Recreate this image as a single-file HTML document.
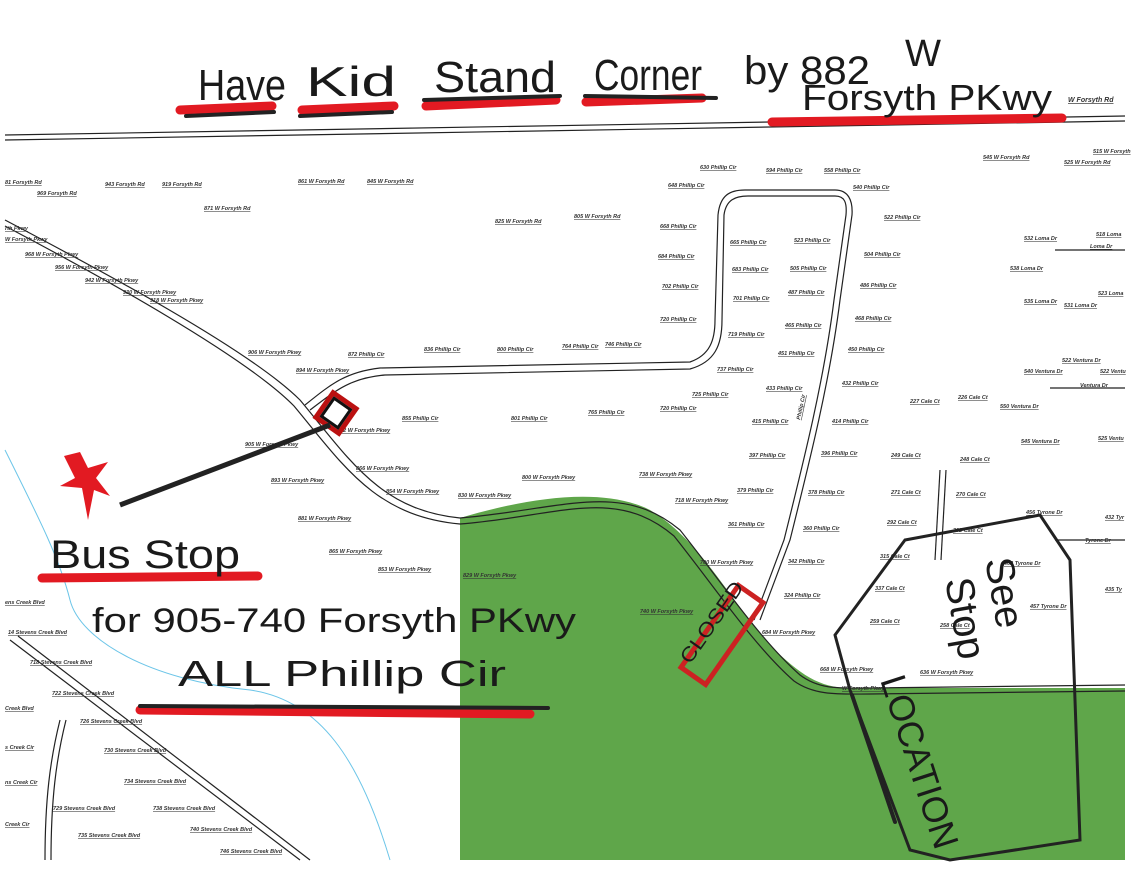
<!DOCTYPE html>
<html><head><meta charset="utf-8"><style>
html,body{margin:0;padding:0;background:#fff;}
svg{display:block}
.s{font-family:"Liberation Sans",sans-serif;font-size:5.5px;font-weight:bold;font-style:italic;fill:#333;text-decoration:underline}
.h{font-family:"Liberation Sans",sans-serif;fill:#1a1a1a;font-weight:normal}
</style></head><body>
<svg width="1136" height="875" viewBox="0 0 1136 875" xmlns="http://www.w3.org/2000/svg">
<rect width="1136" height="875" fill="#fff"/>
<path d="M460 518 C520 500 600 485 650 510 C700 540 730 600 770 645 C800 675 820 688 850 688 L1125 688 L1125 860 L460 860 Z" fill="#5fa64a"/>
<path d="M5 450 C40 520 60 560 70 600 C80 640 150 680 250 690 C320 700 360 760 390 860" fill="none" stroke="#6cc5e8" stroke-width="1"/>
<g fill="none" stroke="#222" stroke-width="1.2">
<path d="M5 135 L1125 116"/><path d="M5 140 L1125 121"/>
<path d="M5 220 C100 270 250 350 300 400 C350 460 380 510 460 518 C560 510 620 480 680 530 C720 580 760 640 800 675 C820 690 840 688 870 688 L1125 685"/>
<path d="M5 226 C100 276 245 356 294 406 C344 466 375 516 460 524 C560 516 615 486 674 536 C714 586 754 646 794 681 C815 696 840 694 870 694 L1125 691"/>
<path d="M305 405 C330 385 345 372 380 368 L690 362 C710 355 715 340 715 320 L718 215 C720 195 730 190 745 190 L835 190 C848 190 853 200 852 215 L840 300 C830 380 810 460 790 540 L760 620"/>
<path d="M310 410 C335 391 350 378 385 375 L690 369 C715 362 722 345 722 320 L724 215 C726 200 735 196 748 196 L835 196 C845 196 847 203 846 215 L834 300 C824 380 804 460 784 540 L754 620"/>
<path d="M10 640 L300 860"/><path d="M18 636 L310 860"/>
<path d="M60 720 C50 760 45 800 45 860"/><path d="M66 720 C56 760 51 800 51 860"/>
<path d="M940 470 L935 560"/><path d="M946 470 L941 560"/>
<path d="M1055 250 L1125 250"/><path d="M1050 388 L1125 388"/><path d="M1055 540 L1125 540"/>
</g>
<g class="s">
<text x="5" y="184">81 Forsyth Rd</text><text x="37" y="195">969 Forsyth Rd</text><text x="105" y="186">943 Forsyth Rd</text><text x="162" y="186">919 Forsyth Rd</text>
<text x="298" y="183">861 W Forsyth Rd</text><text x="367" y="183">845 W Forsyth Rd</text><text x="204" y="210">871 W Forsyth Rd</text>
<text x="495" y="223">825 W Forsyth Rd</text><text x="574" y="218">805 W Forsyth Rd</text>
<text x="700" y="169">630 Phillip Cir</text><text x="766" y="172">594 Phillip Cir</text><text x="824" y="172">558 Phillip Cir</text><text x="668" y="187">648 Phillip Cir</text><text x="853" y="189">540 Phillip Cir</text>
<text x="983" y="159">545 W Forsyth Rd</text><text x="1064" y="164">525 W Forsyth Rd</text><text x="1093" y="153">515 W Forsyth</text>
<text x="660" y="228">668 Phillip Cir</text><text x="884" y="219">522 Phillip Cir</text><text x="730" y="244">665 Phillip Cir</text><text x="794" y="242">523 Phillip Cir</text>
<text x="658" y="258">684 Phillip Cir</text><text x="864" y="256">504 Phillip Cir</text><text x="732" y="271">683 Phillip Cir</text><text x="790" y="270">505 Phillip Cir</text>
<text x="662" y="288">702 Phillip Cir</text><text x="860" y="287">486 Phillip Cir</text><text x="733" y="300">701 Phillip Cir</text><text x="788" y="294">487 Phillip Cir</text>
<text x="660" y="321">720 Phillip Cir</text><text x="855" y="320">468 Phillip Cir</text><text x="785" y="327">465 Phillip Cir</text><text x="728" y="336">719 Phillip Cir</text>
<text x="848" y="351">450 Phillip Cir</text><text x="778" y="355">451 Phillip Cir</text>
<text x="5" y="230">rth Pkwy</text><text x="5" y="241">W Forsyth Pkwy</text><text x="25" y="256">968 W Forsyth Pkwy</text><text x="55" y="269">956 W Forsyth Pkwy</text>
<text x="85" y="282">942 W Forsyth Pkwy</text><text x="123" y="294">930 W Forsyth Pkwy</text><text x="150" y="302">918 W Forsyth Pkwy</text>
<text x="248" y="354">906 W Forsyth Pkwy</text><text x="296" y="372">894 W Forsyth Pkwy</text><text x="348" y="356">872 Phillip Cir</text>
<text x="424" y="351">836 Phillip Cir</text><text x="497" y="351">800 Phillip Cir</text><text x="562" y="348">764 Phillip Cir</text><text x="605" y="346">746 Phillip Cir</text>
<text x="717" y="371">737 Phillip Cir</text><text x="766" y="390">433 Phillip Cir</text><text x="842" y="385">432 Phillip Cir</text><text x="692" y="396">725 Phillip Cir</text>
<text x="402" y="420">855 Phillip Cir</text><text x="511" y="420">801 Phillip Cir</text><text x="588" y="414">765 Phillip Cir</text><text x="660" y="410">720 Phillip Cir</text>
<text x="752" y="423">415 Phillip Cir</text><text x="832" y="423">414 Phillip Cir</text><text x="910" y="403">227 Cale Ct</text><text x="958" y="399">226 Cale Ct</text><text x="1000" y="408">550 Ventura Dr</text>
<text x="1024" y="373">540 Ventura Dr</text><text x="1062" y="362">522 Ventura Dr</text><text x="1100" y="373">522 Ventu</text><text x="1080" y="387">Ventura Dr</text>
<text x="245" y="446">905 W Forsyth Pkwy</text><text x="337" y="432">882 W Forsyth Pkwy</text><text x="749" y="457">397 Phillip Cir</text><text x="821" y="455">396 Phillip Cir</text>
<text x="891" y="457">249 Cale Ct</text><text x="960" y="461">248 Cale Ct</text><text x="1021" y="443">545 Ventura Dr</text><text x="1098" y="440">525 Ventu</text>
<text x="356" y="470">866 W Forsyth Pkwy</text><text x="271" y="482">893 W Forsyth Pkwy</text><text x="639" y="476">738 W Forsyth Pkwy</text><text x="522" y="479">800 W Forsyth Pkwy</text>
<text x="386" y="493">854 W Forsyth Pkwy</text><text x="458" y="497">830 W Forsyth Pkwy</text><text x="675" y="502">718 W Forsyth Pkwy</text>
<text x="737" y="492">379 Phillip Cir</text><text x="808" y="494">378 Phillip Cir</text><text x="891" y="494">271 Cale Ct</text><text x="956" y="496">270 Cale Ct</text>
<text x="298" y="520">881 W Forsyth Pkwy</text><text x="728" y="526">361 Phillip Cir</text><text x="803" y="530">360 Phillip Cir</text><text x="887" y="524">292 Cale Ct</text><text x="953" y="532">292 Cale Ct</text>
<text x="1026" y="514">456 Tyrone Dr</text><text x="1105" y="519">432 Tyr</text><text x="1085" y="542">Tyrone Dr</text>
<text x="329" y="553">865 W Forsyth Pkwy</text><text x="378" y="571">853 W Forsyth Pkwy</text><text x="463" y="577">829 W Forsyth Pkwy</text>
<text x="700" y="564">700 W Forsyth Pkwy</text><text x="788" y="563">342 Phillip Cir</text><text x="880" y="558">315 Cale Ct</text><text x="1004" y="565">462 Tyrone Dr</text>
<text x="875" y="590">337 Cale Ct</text><text x="784" y="597">324 Phillip Cir</text><text x="1105" y="591">435 Ty</text>
<text x="5" y="604">ens Creek Blvd</text><text x="640" y="613">740 W Forsyth Pkwy</text><text x="1030" y="608">457 Tyrone Dr</text>
<text x="870" y="623">259 Cale Ct</text><text x="940" y="627">258 Cale Ct</text><text x="8" y="634">14 Stevens Creek Blvd</text><text x="762" y="634">684 W Forsyth Pkwy</text>
<text x="30" y="664">718 Stevens Creek Blvd</text><text x="820" y="671">668 W Forsyth Pkwy</text><text x="920" y="674">636 W Forsyth Pkwy</text>
<text x="52" y="695">722 Stevens Creek Blvd</text><text x="842" y="690">W Forsyth Pkwy</text><text x="5" y="710">Creek Blvd</text>
<text x="80" y="723">726 Stevens Creek Blvd</text><text x="5" y="749">s Creek Cir</text><text x="104" y="752">730 Stevens Creek Blvd</text>
<text x="5" y="784">ns Creek Cir</text><text x="124" y="783">734 Stevens Creek Blvd</text><text x="53" y="810">729 Stevens Creek Blvd</text><text x="153" y="810">738 Stevens Creek Blvd</text>
<text x="5" y="826">Creek Cir</text><text x="190" y="831">740 Stevens Creek Blvd</text><text x="78" y="837">735 Stevens Creek Blvd</text><text x="220" y="853">746 Stevens Creek Blvd</text>
<text x="1024" y="240">532 Loma Dr</text><text x="1096" y="236">518 Loma</text><text x="1090" y="248">Loma Dr</text><text x="1010" y="270">538 Loma Dr</text>
<text x="1024" y="303">535 Loma Dr</text><text x="1064" y="307">531 Loma Dr</text><text x="1098" y="295">523 Loma</text>
<text x="1068" y="102" style="font-size:7px">W Forsyth Rd</text>
</g>
<text x="800" y="420" class="s" transform="rotate(-78 800 420)">Phillip Cir</text>
<g fill="none" stroke="#b11" stroke-width="5">
<rect x="322" y="398" width="28" height="30" transform="rotate(35 336 413)"/>
<rect x="672" y="620" width="100" height="30" transform="rotate(-55 722 635)" stroke="#c22"/>
</g>
<rect x="326" y="402" width="20" height="22" transform="rotate(35 336 413)" fill="none" stroke="#111" stroke-width="3"/>
<line x1="120" y1="505" x2="330" y2="425" stroke="#222" stroke-width="5"/>
<path d="M64 456 L75 478 L60 486 L82 488 L88 520 L94 490 L110 496 L96 478 L108 462 L88 468 L80 452 Z" fill="#e21a22"/>
<g stroke="#e21a22" stroke-width="9" stroke-linecap="round">
<line x1="180" y1="110" x2="272" y2="106"/><line x1="302" y1="110" x2="394" y2="106"/><line x1="426" y1="106" x2="556" y2="100"/>
<line x1="586" y1="102" x2="702" y2="98"/><line x1="772" y1="122" x2="1062" y2="118"/>
<line x1="42" y1="578" x2="258" y2="576"/><line x1="140" y1="710" x2="530" y2="714"/>
</g>
<g stroke="#222" stroke-width="4" stroke-linecap="round" fill="none">
<line x1="186" y1="116" x2="274" y2="112"/><line x1="300" y1="116" x2="392" y2="112"/><line x1="424" y1="100" x2="560" y2="96"/>
<line x1="585" y1="96" x2="716" y2="98"/><line x1="140" y1="706" x2="548" y2="708"/>
<path d="M905 540 L1040 515 L1070 560 L1080 840 L950 860 L910 850 L850 690 L835 635 Z" stroke-width="3"/>
<path d="M852 695 L895 822" stroke-width="4"/>
</g>
<g class="h" lengthAdjust="spacingAndGlyphs">
<text x="198" y="100" font-size="44" textLength="88" lengthAdjust="spacingAndGlyphs">Have</text>
<text x="306" y="96" font-size="42" textLength="90" lengthAdjust="spacingAndGlyphs">Kid</text>
<text x="434" y="92" font-size="44" textLength="122" lengthAdjust="spacingAndGlyphs">Stand</text>
<text x="594" y="90" font-size="44" textLength="108" lengthAdjust="spacingAndGlyphs">Corner</text>
<text x="744" y="84" font-size="40" textLength="126" lengthAdjust="spacingAndGlyphs">by 882</text>
<text x="905" y="66" font-size="38" textLength="36" lengthAdjust="spacingAndGlyphs">W</text>
<text x="802" y="110" font-size="36" textLength="250" lengthAdjust="spacingAndGlyphs">Forsyth PKwy</text>
<text x="50" y="568" font-size="40" textLength="190" lengthAdjust="spacingAndGlyphs">Bus Stop</text>
<text x="92" y="632" font-size="34" textLength="484" lengthAdjust="spacingAndGlyphs">for 905-740 Forsyth PKwy</text>
<text x="178" y="686" font-size="36" textLength="328" lengthAdjust="spacingAndGlyphs">ALL Phillip Cir</text>
<text x="690" y="665" font-size="20" textLength="95" lengthAdjust="spacingAndGlyphs" transform="rotate(-55 690 665)">CLOSED</text>
<text x="985" y="560" font-size="40" transform="rotate(80 985 560)">See</text>
<text x="945" y="580" font-size="40" transform="rotate(80 945 580)">Stop</text>
<text x="880" y="680" font-size="36" textLength="180" lengthAdjust="spacingAndGlyphs" transform="rotate(72 880 680)">LOCATION</text>
</g>
</svg>
</body></html>
